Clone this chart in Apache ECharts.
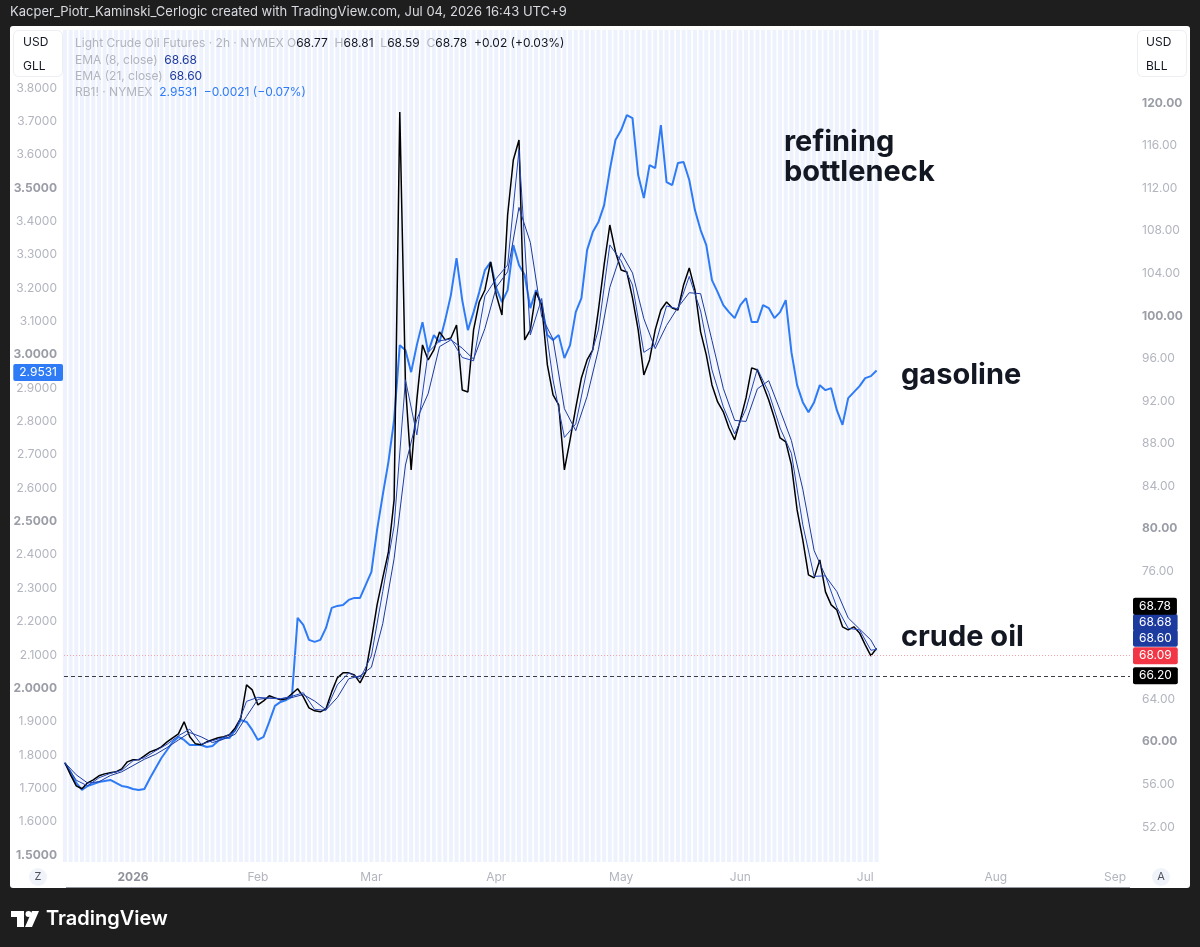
<!DOCTYPE html>
<html>
<head>
<meta charset="utf-8">
<script src="https://cdn.jsdelivr.net/npm/echarts@6/dist/echarts.min.js"></script>
<style>
  html, body { margin: 0; padding: 0; background: #1e1e1e; }
  #main { width: 1200px; height: 947px; }
</style>
</head>
<body>
<div id="main"></div>
<script>
// x positions are trading-day indexes, day 0 = Dec 16 2025 (TradingView spaces bars by index)
const monthIdx = [12, 34, 54, 76, 98, 119, 141, 164, 185];
const monthNames = ['2026', 'Feb', 'Mar', 'Apr', 'May', 'Jun', 'Jul', 'Aug', 'Sep'];

const leftTicks = [1.5, 1.6, 1.7, 1.8, 1.9, 2.0, 2.1, 2.2, 2.3, 2.4, 2.5, 2.6, 2.7, 2.8, 2.9, 3.0, 3.1, 3.2, 3.3, 3.4, 3.5, 3.6, 3.7, 3.8];
const rightTicks = [52, 56, 60, 64, 68, 72, 76, 80, 84, 88, 92, 96, 100, 104, 108, 112, 116, 120];

// Light crude oil futures, one close per trading day (USD/BLL)
const crude = [58.03, 56.90, 55.87, 55.59, 56.15, 56.43, 56.81, 56.99, 57.09, 57.18,
    57.46, 58.12, 58.31, 58.31, 58.68, 59.06, 59.25, 59.53, 60.00, 60.38,
    60.75, 61.88, 60.47, 59.81, 59.72, 60.00, 60.19, 60.38, 60.47, 60.66,
    61.31, 62.25, 65.35, 64.88, 63.47, 63.85, 64.32, 64.13, 63.94, 64.04,
    64.51, 64.98, 64.23, 63.19, 62.91, 62.82, 63.10, 64.69, 66.01, 66.48,
    66.48, 66.29, 65.54, 66.57, 69.58, 72.86, 75.40, 77.84, 82.72, 119.15,
    93.52, 85.54, 92.11, 97.28, 95.87, 96.81, 98.50, 97.75, 97.93, 99.15,
    93.05, 92.86, 98.69, 101.31, 102.44, 105.07, 101.97, 100.09, 109.48, 114.65,
    116.53, 97.75, 98.69, 102.25, 101.03, 95.40, 92.58, 91.64, 85.54, 88.36,
    91.36, 94.18, 95.87, 96.81, 100.56, 104.79, 108.54, 106.01, 104.32, 104.13,
    101.69, 98.69, 94.46, 95.87, 98.69, 100.56, 101.31, 100.75, 100.56, 102.91,
    104.51, 102.44, 98.50, 96.34, 93.52, 91.92, 90.99, 89.48, 88.36, 90.23,
    92.30, 95.12, 94.93, 93.52, 92.11, 90.42, 88.54, 88.17, 86.01, 81.78,
    78.97, 75.68, 75.40, 77.09, 74.08, 72.86, 72.39, 70.80, 70.52, 70.80,
    70.23, 69.11, 68.08, 68.78];

// RB1! gasoline, one close per trading day (USD/GLL)
const gasoline = [1.776, 1.749, 1.716, 1.695, 1.707, 1.713, 1.719, 1.722, 1.725, 1.716,
    1.707, 1.704, 1.698, 1.695, 1.698, 1.731, 1.761, 1.791, 1.815, 1.839,
    1.854, 1.845, 1.830, 1.830, 1.830, 1.824, 1.827, 1.842, 1.851, 1.851,
    1.875, 1.905, 1.899, 1.875, 1.845, 1.854, 1.899, 1.947, 1.959, 1.965,
    1.974, 2.211, 2.190, 2.145, 2.139, 2.145, 2.181, 2.241, 2.247, 2.250,
    2.265, 2.271, 2.271, 2.310, 2.349, 2.475, 2.580, 2.679, 2.805, 3.029,
    3.014, 2.948, 3.029, 3.098, 3.008, 3.059, 3.038, 3.104, 3.179, 3.290,
    3.164, 3.074, 3.128, 3.188, 3.254, 3.278, 3.200, 3.158, 3.194, 3.329,
    3.269, 3.239, 3.140, 3.194, 3.149, 3.059, 3.044, 3.059, 2.990, 3.029,
    3.128, 3.170, 3.314, 3.368, 3.398, 3.449, 3.554, 3.644, 3.674, 3.719,
    3.710, 3.539, 3.470, 3.569, 3.560, 3.689, 3.518, 3.509, 3.575, 3.578,
    3.524, 3.434, 3.374, 3.329, 3.224, 3.188, 3.149, 3.128, 3.110, 3.149,
    3.170, 3.098, 3.098, 3.149, 3.140, 3.110, 3.128, 3.164, 3.008, 2.909,
    2.858, 2.828, 2.858, 2.909, 2.894, 2.900, 2.834, 2.790, 2.870, 2.888,
    2.906, 2.930, 2.936, 2.9531];

// EMA lines read every second trading day, last point = last bar
const ema8 = [58.03, 56.39, 55.87, 56.62, 57.04, 57.32, 58.22, 58.50, 59.16, 59.77,
    60.57, 61.18, 59.77, 60.10, 60.43, 60.99, 63.80, 64.18, 64.09, 64.04,
    64.28, 64.61, 63.05, 62.96, 65.35, 66.48, 65.92, 68.08, 74.13, 80.28,
    94.0, 88.83, 96.58, 97.66, 97.84, 96.10, 95.78, 101.88, 103.52, 104.79,
    115.59, 98.22, 101.64, 93.99, 88.59, 89.86, 95.03, 98.69, 106.67, 105.17,
    102.91, 96.58, 97.28, 100.94, 100.66, 103.71, 100.47, 94.93, 91.46, 88.92,
    91.27, 95.03, 92.82, 89.48, 87.09, 80.38, 75.54, 75.59, 72.63, 70.66,
    70.52, 68.60, 68.68];
const ema21 = [58.03, 56.9, 56.13, 56.25, 56.83, 57.18, 57.77, 58.36, 58.83, 59.46,
    60.17, 60.87, 60.47, 59.93, 60.26, 60.71, 62.39, 63.99, 64.13, 64.06,
    64.16, 64.44, 63.83, 63.01, 64.16, 65.92, 66.20, 67.00, 71.10, 77.21,
    86.0, 90.29, 92.70, 97.12, 97.75, 96.97, 95.94, 98.83, 102.70, 104.15,
    110.19, 106.9, 99.93, 97.82, 91.29, 89.23, 92.44, 96.86, 102.68, 105.92,
    104.04, 99.74, 96.93, 99.11, 100.80, 102.18, 102.09, 97.70, 93.19, 90.19,
    90.09, 93.15, 93.92, 91.15, 88.29, 83.73, 77.96, 75.56, 74.11, 71.64,
    70.59, 69.56, 68.60];

const lastClose = 68.78, ema8Last = 68.68, ema21Last = 68.60, prevLine = 68.09, lowLine = 66.20;
const rbLast = 2.9531;

const FONT = 'Inter, "Noto Sans", sans-serif';
const GREY = '#b2b5be';
const INK = '#131722';
const BLUE = '#2f7bf5';
const NAVY = '#1d3a9e';

const lastDay = crude.length - 1;
const emaDays = ema21.map((v, i) => (i < ema21.length - 1 ? i * 2 : lastDay));

function pairs(xs, ys) {
    return ys.map((v, i) => [xs ? xs[i] : i, v]);
}

function tag(value, bg, offsetY, pos) {
    return {
        yAxis: value,
        lineStyle: { color: 'rgba(255,255,255,0)', width: 0 },
        label: {
            show: true,
            position: pos,
            distance: pos === 'end' ? 3 : 1,
            offset: [0, offsetY],
            formatter: pos === 'end' ? value.toFixed(2) : value.toFixed(4),
            color: '#ffffff',
            backgroundColor: bg,
            padding: [3, 6, 2, 6],
            borderRadius: 2,
            fontFamily: FONT,
            fontSize: 12
        }
    };
}

const chart = echarts.init(document.getElementById('main'));

const options = {
    backgroundColor: '#1e1e1e',
    animation: false,
    textStyle: { fontFamily: FONT },
    grid: { left: 64, right: 70, top: 30, bottom: 85 },
    xAxis: {
        type: 'value',
        min: -0.16,
        max: 187.65,
        axisLine: { show: false },
        axisTick: { show: false },
        splitLine: { show: false },
        axisLabel: {
            customValues: monthIdx,
            margin: 9,
            fontSize: 12,
            color: GREY,
            formatter: function (v) {
                const k = monthIdx.indexOf(Math.round(v));
                if (k < 0) return '';
                return k === 0 ? '{b|' + monthNames[k] + '}' : monthNames[k];
            },
            rich: { b: { fontWeight: 'bold', color: '#8e919a', fontSize: 12 } }
        }
    },
    yAxis: [
        {
            type: 'value',
            position: 'left',
            min: 1.479,
            max: 3.974,
            axisLine: { show: false },
            axisTick: { show: false },
            splitLine: { show: false },
            axisLabel: {
                customValues: leftTicks,
                margin: 7,
                fontSize: 12,
                color: GREY,
                formatter: function (v) {
                    const s = v.toFixed(4);
                    return Math.abs(v * 2 - Math.round(v * 2)) < 1e-6 ? '{b|' + s + '}' : s;
                },
                rich: { b: { fontWeight: 'bold', color: '#9a9da6', fontSize: 12 } }
            }
        },
        {
            type: 'value',
            position: 'right',
            min: 48.713,
            max: 126.856,
            axisLine: { show: false },
            axisTick: { show: false },
            splitLine: { show: false },
            axisLabel: {
                customValues: rightTicks,
                margin: 12,
                fontSize: 12,
                color: GREY,
                formatter: function (v) {
                    const s = v.toFixed(2);
                    return v % 20 === 0 ? '{b|' + s + '}' : s;
                },
                rich: { b: { fontWeight: 'bold', color: '#9a9da6', fontSize: 12 } }
            }
        },
        { type: 'value', min: 0, max: 1, show: false }
    ],
    series: [
        {
            // session background stripes, one per traded day
            name: 'sessions',
            type: 'bar',
            yAxisIndex: 2,
            barWidth: 4,
            silent: true,
            z: 1,
            itemStyle: { color: '#edf2fd' },
            data: crude.map((v, i) => [i, 1])
        },
        {
            name: 'RB1!',
            type: 'line',
            yAxisIndex: 0,
            symbol: 'none',
            z: 3,
            lineStyle: { color: BLUE, width: 2 },
            data: pairs(null, gasoline),
            markLine: {
                silent: true,
                symbol: 'none',
                data: [tag(rbLast, BLUE, 1, 'start')]
            }
        },
        {
            name: 'Light Crude Oil Futures',
            type: 'line',
            yAxisIndex: 1,
            symbol: 'none',
            z: 4,
            lineStyle: { color: '#000000', width: 1.5 },
            data: pairs(null, crude),
            markLine: {
                silent: true,
                symbol: 'none',
                data: [
                    Object.assign(tag(lowLine, '#000000', 0, 'end'), {
                        lineStyle: { color: '#3a3d45', type: [4, 3], width: 1 }
                    }),
                    Object.assign(tag(prevLine, '#f23645', 0, 'end'), {
                        lineStyle: { color: '#f7a3aa', type: [1, 2], width: 1 }
                    }),
                    tag(ema21Last, NAVY, -12, 'end'),
                    tag(ema8Last, NAVY, -27, 'end'),
                    tag(lastClose, '#000000', -42, 'end')
                ]
            }
        },
        {
            name: 'EMA (21, close)',
            type: 'line',
            yAxisIndex: 1,
            symbol: 'none',
            z: 5,
            lineStyle: { color: NAVY, width: 1 },
            data: pairs(emaDays, ema21)
        },
        {
            name: 'EMA (8, close)',
            type: 'line',
            yAxisIndex: 1,
            symbol: 'none',
            z: 5,
            lineStyle: { color: '#2446b8', width: 1 },
            data: pairs(emaDays, ema8)
        }
    ],
    graphic: [
        // white chart card
        { type: 'rect', z: -10, shape: { x: 10, y: 26, width: 1180, height: 862, r: 3 }, style: { fill: '#ffffff' } },
        { type: 'line', z: 10, shape: { x1: 66, y1: 887.5, x2: 1130, y2: 887.5 }, style: { stroke: '#9598a1', lineWidth: 1 } },
        {
            type: 'text', left: 10, top: 6,
            style: { text: 'Kacper_Piotr_Kaminski_Cerlogic created with TradingView.com, Jul 04, 2026 16:43 UTC+9', fill: '#d8dae0', font: '13px ' + FONT }
        },
        // currency boxes
        { type: 'rect', z: 10, shape: { x: 13.5, y: 30.5, width: 49, height: 46, r: 5 }, style: { fill: '#ffffff', stroke: '#eceef2', lineWidth: 1 } },
        { type: 'text', z: 11, style: { x: 23, y: 42, text: 'USD', fill: INK, font: '12px ' + FONT, verticalAlign: 'middle' } },
        { type: 'text', z: 11, style: { x: 23, y: 66, text: 'GLL', fill: INK, font: '12px ' + FONT, verticalAlign: 'middle' } },
        { type: 'rect', z: 10, shape: { x: 1137.5, y: 30.5, width: 49, height: 46, r: 5 }, style: { fill: '#ffffff', stroke: '#eceef2', lineWidth: 1 } },
        { type: 'text', z: 11, style: { x: 1146, y: 42, text: 'USD', fill: INK, font: '12px ' + FONT, verticalAlign: 'middle' } },
        { type: 'text', z: 11, style: { x: 1146, y: 66, text: 'BLL', fill: INK, font: '12px ' + FONT, verticalAlign: 'middle' } },
        // legend lines
        {
            type: 'text', z: 20,
            style: {
                x: 75, y: 43, verticalAlign: 'middle', font: '12px ' + FONT,
                text: '{g|Light Crude Oil Futures · 2h · NYMEX O}{k|68.77}{g|  H}{k|68.81}{g|  L}{k|68.59}{g|  C}{k|68.78}{k|  +0.02 (+0.03%)}',
                rich: { g: { fill: GREY, font: '12px ' + FONT }, k: { fill: INK, font: '12px ' + FONT } }
            }
        },
        {
            type: 'text', z: 20,
            style: {
                x: 75, y: 60, verticalAlign: 'middle', font: '12px ' + FONT,
                text: '{g|EMA (8, close)  }{n|68.68}',
                rich: { g: { fill: GREY, font: '12px ' + FONT }, n: { fill: NAVY, font: '12px ' + FONT } }
            }
        },
        {
            type: 'text', z: 20,
            style: {
                x: 75, y: 76, verticalAlign: 'middle', font: '12px ' + FONT,
                text: '{g|EMA (21, close)  }{n|68.60}',
                rich: { g: { fill: GREY, font: '12px ' + FONT }, n: { fill: NAVY, font: '12px ' + FONT } }
            }
        },
        {
            type: 'text', z: 20,
            style: {
                x: 75, y: 92, verticalAlign: 'middle', font: '12px ' + FONT,
                text: '{g|RB1! · NYMEX  }{b|2.9531  −0.0021 (−0.07%)}',
                rich: { g: { fill: GREY, font: '12px ' + FONT }, b: { fill: BLUE, font: '12px ' + FONT } }
            }
        },
        // annotations
        { type: 'text', z: 20, style: { x: 784, y: 142, text: 'refining', fill: INK, font: 'bold 29px ' + FONT, verticalAlign: 'middle' } },
        { type: 'text', z: 20, style: { x: 784, y: 172, text: 'bottleneck', fill: INK, font: 'bold 29px ' + FONT, verticalAlign: 'middle' } },
        { type: 'text', z: 20, style: { x: 901, y: 375, text: 'gasoline', fill: INK, font: 'bold 29px ' + FONT, verticalAlign: 'middle' } },
        { type: 'text', z: 20, style: { x: 901, y: 637, text: 'crude oil', fill: INK, font: 'bold 29px ' + FONT, verticalAlign: 'middle' } },
        // scale buttons
        { type: 'circle', z: 10, shape: { cx: 38, cy: 877, r: 9 }, style: { fill: '#f0f3fa' } },
        { type: 'text', z: 11, style: { x: 38, y: 877, text: 'Z', fill: '#50535e', font: '11px ' + FONT, align: 'center', verticalAlign: 'middle' } },
        { type: 'circle', z: 10, shape: { cx: 1161, cy: 877, r: 9 }, style: { fill: '#f0f3fa' } },
        { type: 'text', z: 11, style: { x: 1161, y: 877, text: 'A', fill: '#50535e', font: '11px ' + FONT, align: 'center', verticalAlign: 'middle' } },
        // TradingView logo
        { type: 'rect', shape: { x: 11, y: 911, width: 13, height: 6 }, style: { fill: '#ffffff' } },
        { type: 'rect', shape: { x: 17, y: 911, width: 7, height: 16 }, style: { fill: '#ffffff' } },
        { type: 'circle', shape: { cx: 28.5, cy: 914, r: 3 }, style: { fill: '#ffffff' } },
        { type: 'polygon', shape: { points: [[32, 911], [39, 911], [32, 927], [25, 927]] }, style: { fill: '#ffffff' } },
        { type: 'text', style: { x: 46, y: 919, text: 'TradingView', fill: '#ffffff', font: '600 20px ' + FONT, verticalAlign: 'middle' } }
    ]
};

chart.setOption(options);
</script>
</body>
</html>
